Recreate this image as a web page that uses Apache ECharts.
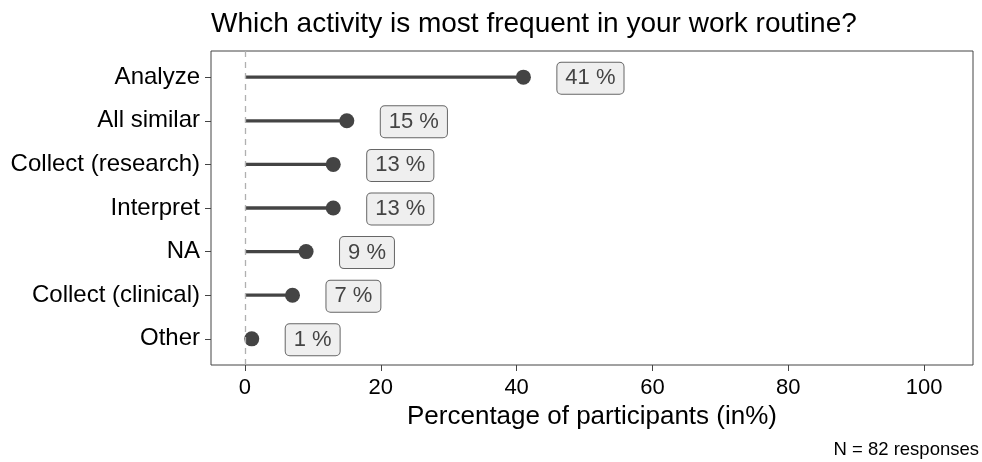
<!DOCTYPE html>
<html><head><meta charset="utf-8">
<script src="https://cdn.jsdelivr.net/npm/echarts@6/dist/echarts.min.js"></script>
<style>html,body{margin:0;padding:0;background:#fff}#c{width:982px;height:462px}</style>
</head><body><div id="c"></div>
<script>
const categories = ['Analyze','All similar','Collect (research)','Interpret','NA','Collect (clinical)','Other'];
const values = [41, 15, 13, 13, 9, 7, 1];
const labels = ['41 %','15 %','13 %','13 %','9 %','7 %','1 %'];
const xTicks = [0, 20, 40, 60, 80, 100];
const labelOffset = 5;

const font = 'Liberation Sans, Arial, sans-serif';
const rows = categories.map((c, i) => i + 1);
const pts = values.map((v, i) => [v, rows[i]]);

const chart = echarts.init(document.getElementById('c'), null, {renderer: 'canvas'});
chart.setOption({
  animation: false,
  title: {
    text: 'Which activity is most frequent in your work routine?',
    left: 206, top: 5,
    textStyle: {fontFamily: font, fontSize: 28, fontWeight: 'normal', color: '#000'}
  },
  graphic: [{
    type: 'text', right: 3, bottom: 3,
    style: {text: 'N = 82 responses', fontFamily: font, fontSize: 18.5, fill: '#000'}
  }],
  grid: {left: 211, right: 9, top: 51, bottom: 97, show: true, borderColor: '#444', borderWidth: 1, backgroundColor: '#fff'},
  xAxis: {
    type: 'value', min: -5, max: 107.2,
    name: 'Percentage of participants (in%)', nameLocation: 'middle', nameGap: 33,
    nameTextStyle: {fontFamily: font, fontSize: 26, color: '#000'},
    axisLine: {show: false, onZero: false},
    axisTick: {show: true, length: 6, lineStyle: {color: '#444'}, customValues: xTicks},
    axisLabel: {customValues: xTicks, fontFamily: font, fontSize: 22, color: '#000', margin: 12},
    splitLine: {show: false}
  },
  yAxis: {
    type: 'value', min: 0.4, max: 7.6, inverse: true,
    axisLine: {show: false, onZero: false},
    axisTick: {show: true, length: 6, lineStyle: {color: '#444'}, customValues: rows},
    axisLabel: {customValues: rows, fontFamily: font, fontSize: 24, color: '#000', margin: 11,
      padding: [4, 0, 0, 0],
      formatter: v => categories[Math.round(v) - 1] || ''},
    splitLine: {show: false}
  },
  series: [
    {
      type: 'custom', z: 2,
      renderItem: (params, api) => {
        const v = api.value(0), y = api.value(1);
        const a = api.coord([0, y]), b = api.coord([v, y]);
        return {type: 'line', shape: {x1: a[0], y1: a[1], x2: b[0], y2: b[1]},
          style: {stroke: '#444', lineWidth: 3.3}};
      },
      data: pts,
      markLine: {
        silent: true, symbol: 'none', label: {show: false},
        lineStyle: {color: '#b0b0b0', type: [6, 5], width: 1.3},
        data: [{xAxis: 0}]
      }
    },
    {
      type: 'scatter', z: 3, symbolSize: 15, itemStyle: {color: '#444', opacity: 1},
      data: pts
    },
    {
      type: 'custom', z: 4,
      renderItem: (params, api) => {
        const v = api.value(0), y = api.value(1);
        const p = api.coord([v + labelOffset, y]);
        return {type: 'text', x: p[0], y: p[1] + 1,
          style: {text: labels[params.dataIndex], fontFamily: font, fontSize: 22, fill: '#444',
            align: 'left', verticalAlign: 'middle',
            backgroundColor: '#efefef', borderColor: '#666', borderWidth: 1, borderRadius: 4,
            padding: [5, 8, 4, 8]}};
      },
      data: pts
    }
  ]
});
</script></body></html>
